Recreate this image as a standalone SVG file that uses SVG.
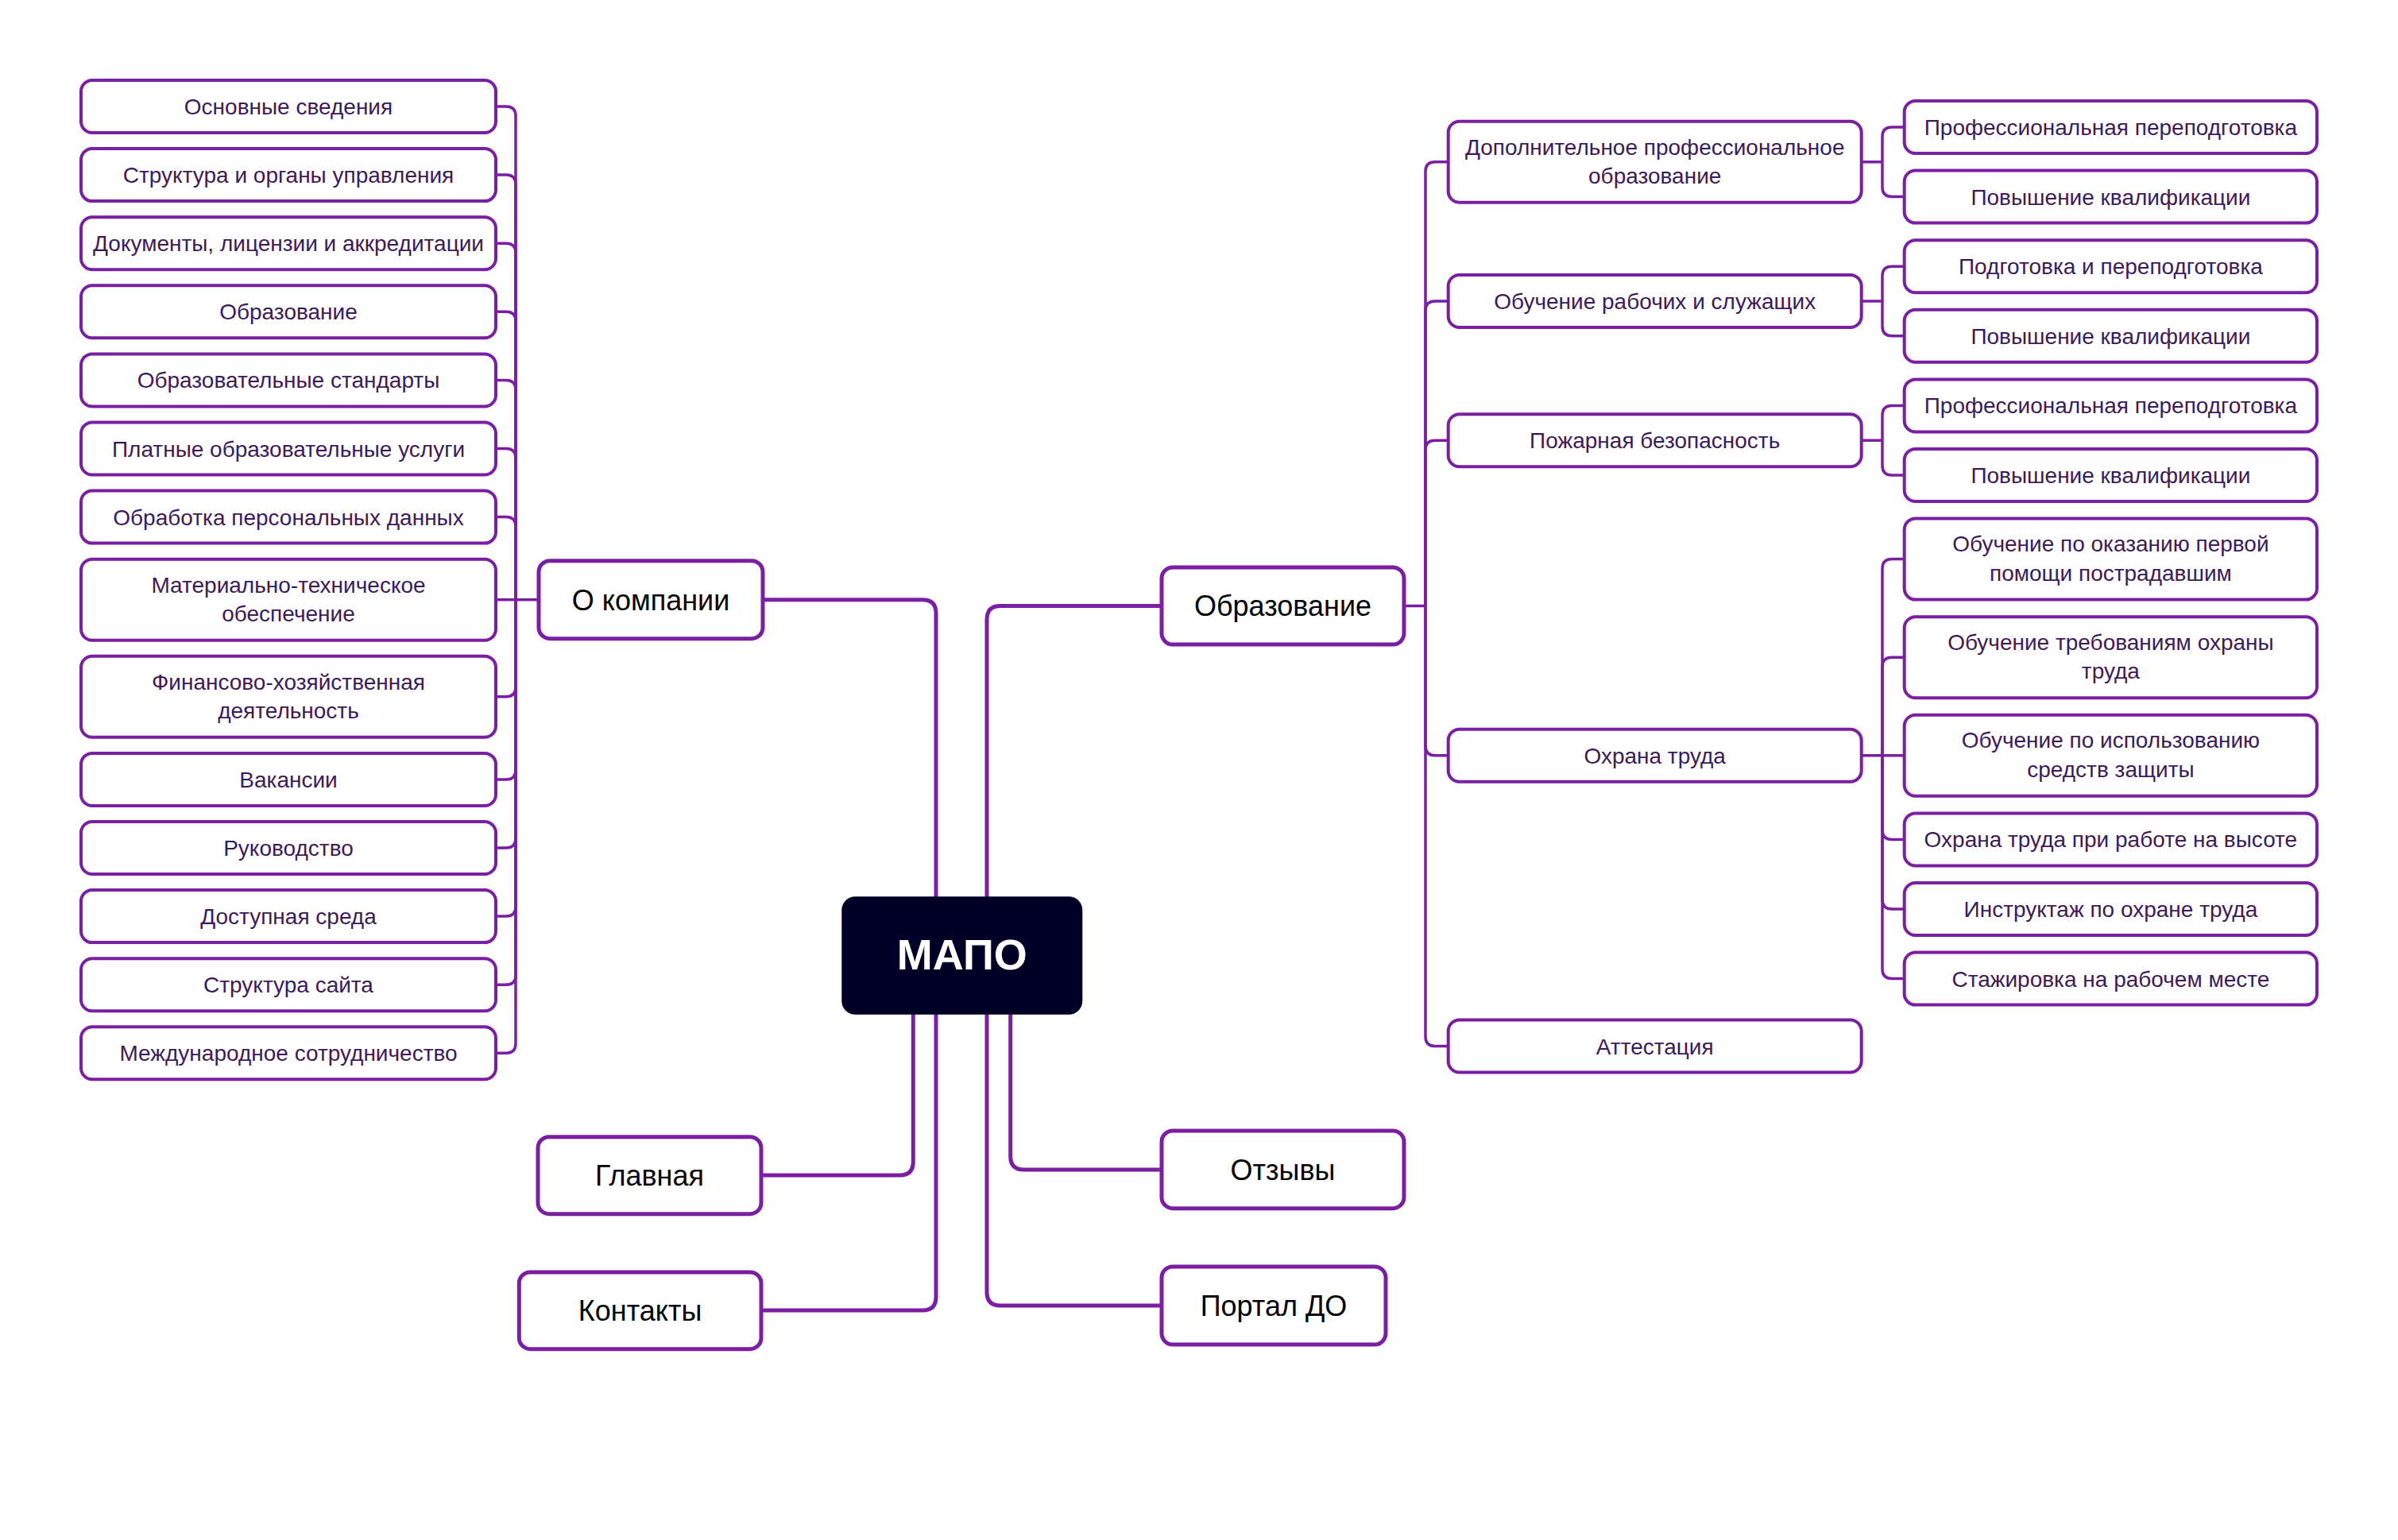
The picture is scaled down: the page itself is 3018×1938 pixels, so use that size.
<svg xmlns="http://www.w3.org/2000/svg" width="3018" height="1938" viewBox="0 0 3018 1938">
<style>
.n rect{fill:#fff;stroke:#7b1fa2;stroke-width:4}
.m rect{fill:#fff;stroke:#7b1fa2;stroke-width:5}
text{font-family:"Liberation Sans",Arial,sans-serif;text-anchor:middle}
.n text{font-size:28px;fill:#3d1a5b}
.m text{font-size:36px;fill:#000}
.c path{fill:none;stroke:#7b1fa2;stroke-width:3.5}
.c path.k{stroke-width:5}
</style>
<rect width="3018" height="1938" fill="#fff"/>
<g id="connectors" class="c">
<path class="k" d="M960,754.7 H1161 Q1178,754.7 1178,771.7 V1200"/>
<path class="k" d="M1178,1200 V1632 Q1178,1649 1161,1649 H958"/>
<path class="k" d="M1149.3,1200 V1462 Q1149.3,1479 1132.3,1479 H958"/>
<path class="k" d="M1242,1200 V779.5 Q1242,762.5 1259,762.5 H1462"/>
<path class="k" d="M1242,1200 V1626 Q1242,1643 1259,1643 H1462"/>
<path class="k" d="M1271.7,1200 V1455 Q1271.7,1472 1288.7,1472 H1462"/>
<path d="M678,754.7 H649"/>
<path d="M649,754.7 V146 Q649,134 637,134 H624"/>
<path d="M649,754.7 V232.1 Q649,220.1 637,220.1 H624"/>
<path d="M649,754.7 V318.2 Q649,306.2 637,306.2 H624"/>
<path d="M649,754.7 V404.3 Q649,392.3 637,392.3 H624"/>
<path d="M649,754.7 V490.4 Q649,478.4 637,478.4 H624"/>
<path d="M649,754.7 V576.5 Q649,564.5 637,564.5 H624"/>
<path d="M649,754.7 V662.6 Q649,650.6 637,650.6 H624"/>
<path d="M649,754.7 H624"/>
<path d="M649,754.7 V864.8 Q649,876.8 637,876.8 H624"/>
<path d="M649,754.7 V968.9 Q649,980.9 637,980.9 H624"/>
<path d="M649,754.7 V1055 Q649,1067 637,1067 H624"/>
<path d="M649,754.7 V1141.1 Q649,1153.1 637,1153.1 H624"/>
<path d="M649,754.7 V1227.2 Q649,1239.2 637,1239.2 H624"/>
<path d="M649,754.7 V1313.3 Q649,1325.3 637,1325.3 H624"/>
<path d="M1767,762.5 H1794"/>
<path d="M1794,762.5 V215.8 Q1794,203.8 1806,203.8 H1822.7"/>
<path d="M1794,762.5 V391 Q1794,379 1806,379 H1822.7"/>
<path d="M1794,762.5 V566.2 Q1794,554.2 1806,554.2 H1822.7"/>
<path d="M1794,762.5 V938.8 Q1794,950.8 1806,950.8 H1822.7"/>
<path d="M1794,762.5 V1304.5 Q1794,1316.5 1806,1316.5 H1822.7"/>
<path d="M2342.7,203.8 H2369"/>
<path d="M2369,203.8 V172 Q2369,160 2381,160 H2396.7"/>
<path d="M2369,203.8 V235.6 Q2369,247.6 2381,247.6 H2396.7"/>
<path d="M2342.7,379 H2369"/>
<path d="M2369,379 V347.2 Q2369,335.2 2381,335.2 H2396.7"/>
<path d="M2369,379 V410.8 Q2369,422.8 2381,422.8 H2396.7"/>
<path d="M2342.7,554.2 H2369"/>
<path d="M2369,554.2 V522.4 Q2369,510.4 2381,510.4 H2396.7"/>
<path d="M2369,554.2 V586 Q2369,598 2381,598 H2396.7"/>
<path d="M2342.7,950.8 H2396.7"/>
<path d="M2369,950.8 V715.6 Q2369,703.6 2381,703.6 H2396.7"/>
<path d="M2369,950.8 V839.2 Q2369,827.2 2381,827.2 H2396.7"/>
<path d="M2369,950.8 V1044.4 Q2369,1056.4 2381,1056.4 H2396.7"/>
<path d="M2369,950.8 V1132 Q2369,1144 2381,1144 H2396.7"/>
<path d="M2369,950.8 V1219.6 Q2369,1231.6 2381,1231.6 H2396.7"/>
</g>
<g id="mapo"><rect x="1059.3" y="1128.3" width="303" height="148.4" rx="17" fill="#000026"/><text x="1210.8" y="1220" style="font-size:54px;font-weight:bold;fill:#fff">МАПО</text></g>
<g id="o-kompanii" class="m"><rect x="678" y="705.7" width="282" height="98" rx="14"/><text x="819" y="767.5">О компании</text></g>
<g id="glavnaya" class="m"><rect x="677" y="1430.7" width="281" height="97" rx="14"/><text x="817.5" y="1491.8">Главная</text></g>
<g id="kontakty" class="m"><rect x="653.3" y="1601" width="304.7" height="96.7" rx="14"/><text x="805.6" y="1661.8">Контакты</text></g>
<g id="obrazovanie" class="m"><rect x="1462" y="714" width="305" height="97" rx="14"/><text x="1614.5" y="775.1">Образование</text></g>
<g id="otzyvy" class="m"><rect x="1462" y="1423" width="305" height="97.7" rx="14"/><text x="1614.5" y="1484.6">Отзывы</text></g>
<g id="portal" class="m"><rect x="1462" y="1594" width="282" height="98" rx="14"/><text x="1603" y="1655.6">Портал ДО</text></g>
<g id="l1" class="n"><rect x="102" y="101" width="522" height="66" rx="14"/><text x="363" y="144">Основные сведения</text></g>
<g id="l2" class="n"><rect x="102" y="187.1" width="522" height="66" rx="14"/><text x="363" y="230.1">Структура и органы управления</text></g>
<g id="l3" class="n"><rect x="102" y="273.2" width="522" height="66" rx="14"/><text x="363" y="316.2">Документы, лицензии и аккредитации</text></g>
<g id="l4" class="n"><rect x="102" y="359.3" width="522" height="66" rx="14"/><text x="363" y="402.3">Образование</text></g>
<g id="l5" class="n"><rect x="102" y="445.4" width="522" height="66" rx="14"/><text x="363" y="488.4">Образовательные стандарты</text></g>
<g id="l6" class="n"><rect x="102" y="531.5" width="522" height="66" rx="14"/><text x="363" y="574.5">Платные образовательные услуги</text></g>
<g id="l7" class="n"><rect x="102" y="617.6" width="522" height="66" rx="14"/><text x="363" y="660.6">Обработка персональных данных</text></g>
<g id="l8" class="n"><rect x="102" y="703.7" width="522" height="102" rx="14"/><text x="363" y="745.7">Материально-техническое</text><text x="363" y="782.2">обеспечение</text></g>
<g id="l9" class="n"><rect x="102" y="825.8" width="522" height="102" rx="14"/><text x="363" y="867.8">Финансово-хозяйственная</text><text x="363" y="904.3">деятельность</text></g>
<g id="l10" class="n"><rect x="102" y="947.9" width="522" height="66" rx="14"/><text x="363" y="990.9">Вакансии</text></g>
<g id="l11" class="n"><rect x="102" y="1034" width="522" height="66" rx="14"/><text x="363" y="1077">Руководство</text></g>
<g id="l12" class="n"><rect x="102" y="1120.1" width="522" height="66" rx="14"/><text x="363" y="1163.1">Доступная среда</text></g>
<g id="l13" class="n"><rect x="102" y="1206.2" width="522" height="66" rx="14"/><text x="363" y="1249.2">Структура сайта</text></g>
<g id="l14" class="n"><rect x="102" y="1292.3" width="522" height="66" rx="14"/><text x="363" y="1335.3">Международное сотрудничество</text></g>
<g id="r-dpo" class="n"><rect x="1822.7" y="152.8" width="520" height="102" rx="14"/><text x="2082.7" y="194.8">Дополнительное профессиональное</text><text x="2082.7" y="231.3">образование</text></g>
<g id="r-ors" class="n"><rect x="1822.7" y="346" width="520" height="66" rx="14"/><text x="2082.7" y="389">Обучение рабочих и служащих</text></g>
<g id="r-pb" class="n"><rect x="1822.7" y="521.2" width="520" height="66" rx="14"/><text x="2082.7" y="564.2">Пожарная безопасность</text></g>
<g id="r-ot" class="n"><rect x="1822.7" y="917.8" width="520" height="66" rx="14"/><text x="2082.7" y="960.8">Охрана труда</text></g>
<g id="r-att" class="n"><rect x="1822.7" y="1283.5" width="520" height="66" rx="14"/><text x="2082.7" y="1326.5">Аттестация</text></g>
<g id="s1" class="n"><rect x="2396.7" y="127" width="519.3" height="66" rx="14"/><text x="2656.4" y="170">Профессиональная переподготовка</text></g>
<g id="s2" class="n"><rect x="2396.7" y="214.6" width="519.3" height="66" rx="14"/><text x="2656.4" y="257.6">Повышение квалификации</text></g>
<g id="s3" class="n"><rect x="2396.7" y="302.2" width="519.3" height="66" rx="14"/><text x="2656.4" y="345.2">Подготовка и переподготовка</text></g>
<g id="s4" class="n"><rect x="2396.7" y="389.8" width="519.3" height="66" rx="14"/><text x="2656.4" y="432.8">Повышение квалификации</text></g>
<g id="s5" class="n"><rect x="2396.7" y="477.4" width="519.3" height="66" rx="14"/><text x="2656.4" y="520.4">Профессиональная переподготовка</text></g>
<g id="s6" class="n"><rect x="2396.7" y="565" width="519.3" height="66" rx="14"/><text x="2656.4" y="608">Повышение квалификации</text></g>
<g id="s7" class="n"><rect x="2396.7" y="652.6" width="519.3" height="102" rx="14"/><text x="2656.4" y="694.1">Обучение по оказанию первой</text><text x="2656.4" y="730.6">помощи пострадавшим</text></g>
<g id="s8" class="n"><rect x="2396.7" y="776.2" width="519.3" height="102" rx="14"/><text x="2656.4" y="817.7">Обучение требованиям охраны</text><text x="2656.4" y="854.2">труда</text></g>
<g id="s9" class="n"><rect x="2396.7" y="899.8" width="519.3" height="102" rx="14"/><text x="2656.4" y="941.3">Обучение по использованию</text><text x="2656.4" y="977.8">средств защиты</text></g>
<g id="s10" class="n"><rect x="2396.7" y="1023.4" width="519.3" height="66" rx="14"/><text x="2656.4" y="1066.4">Охрана труда при работе на высоте</text></g>
<g id="s11" class="n"><rect x="2396.7" y="1111" width="519.3" height="66" rx="14"/><text x="2656.4" y="1154">Инструктаж по охране труда</text></g>
<g id="s12" class="n"><rect x="2396.7" y="1198.6" width="519.3" height="66" rx="14"/><text x="2656.4" y="1241.6">Стажировка на рабочем месте</text></g>
</svg>
